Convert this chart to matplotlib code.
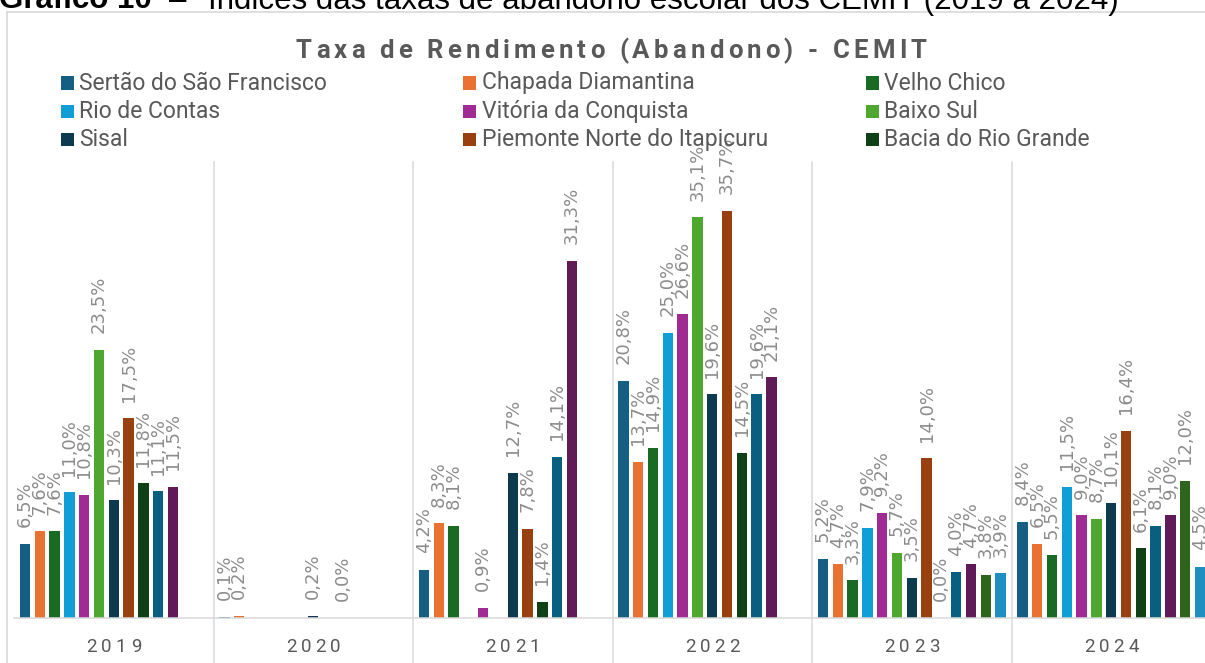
import numpy as np
import matplotlib
matplotlib.use('Agg')
import matplotlib.pyplot as plt
from matplotlib import font_manager
from matplotlib.ft2font import FT2Font
from matplotlib.patches import Rectangle
from matplotlib.lines import Line2D

nan = np.nan

years = ['2019', '2020', '2021', '2022', '2023', '2024']

# taxa de abandono (%) por territorio, 2019..2024 (vazio = sem dado)
sertao_sao_francisco = [6.5, 0.1, 4.2, 20.8, 5.2, 8.4]
chapada_diamantina = [7.6, 0.2, 8.3, 13.7, 4.7, 6.5]
velho_chico = [7.6, nan, 8.1, 14.9, 3.3, 5.5]
rio_de_contas = [11.0, nan, nan, 25.0, 7.9, 11.5]
vitoria_da_conquista = [10.8, nan, 0.9, 26.6, 9.2, 9.0]
baixo_sul = [23.5, nan, nan, 35.1, 5.7, 8.7]
sisal = [10.3, 0.2, 12.7, 19.6, 3.5, 10.1]
piemonte_norte = [17.5, nan, 7.8, 35.7, 14.0, 16.4]
bacia_rio_grande = [11.8, 0.0, 1.4, 14.5, 0.0, 6.1]
serie_10 = [11.1, nan, 14.1, 19.6, 4.0, 8.1]
serie_11 = [11.5, nan, 31.3, 21.1, 4.7, 9.0]
serie_12 = [nan, nan, nan, nan, 3.8, 12.0]
serie_13 = [nan, nan, nan, nan, 3.9, 4.5]

names = ['Sertão do São Francisco', 'Chapada Diamantina', 'Velho Chico',
         'Rio de Contas', 'Vitória da Conquista', 'Baixo Sul',
         'Sisal', 'Piemonte Norte do Itapicuru', 'Bacia do Rio Grande',
         'Série 10', 'Série 11', 'Série 12', 'Série 13']
series = [sertao_sao_francisco, chapada_diamantina, velho_chico,
          rio_de_contas, vitoria_da_conquista, baixo_sul,
          sisal, piemonte_norte, bacia_rio_grande,
          serie_10, serie_11, serie_12, serie_13]
colors = ['#156082', '#E97132', '#196B24', '#0F9ED5', '#A02B93', '#4EA72E',
          '#0D3A4E', '#994011', '#0F4016', '#095F80', '#601A58', '#2F641C',
          '#1F8EC0']
n_legend = 9

W, H, DPI = 1205, 663, 100
FONT = 'Roboto'
GRID = '#D9D9D9'
DARK = '#595959'
LABEL = '#8C8C8C'


def fx(px):
    return px / W


def fy(py):
    # pixels from top -> figure fraction
    return 1 - py / H


def spaced_text(fig, cx, base_y, s, size, gap, weight='normal', color=DARK):
    # letter-spaced text centred on cx (pixels), baseline at base_y
    prop = font_manager.FontProperties(family=FONT, size=size, weight=weight)
    font = FT2Font(font_manager.findfont(prop))
    font.set_size(size, 72)
    adv = [font.load_char(ord(c)).linearHoriAdvance / 65536 * DPI / 72 for c in s]
    total = sum(adv) + gap * (len(s) - 1)
    x = cx - total / 2
    for c, a in zip(s, adv):
        fig.text(fx(x), fy(base_y), c, fontproperties=prop, color=color,
                 ha='left', va='baseline')
        x += a + gap


fig = plt.figure(figsize=(W / DPI, H / DPI), dpi=DPI)

# caption above the chart (cut off at the top)
cap_y = 8.5
fig.text(fx(-1), fy(cap_y), 'Gráfico 10', family='Liberation Sans',
         weight='bold', fontsize=22.5, color='black', va='baseline')
fig.text(fx(178), fy(cap_y), '–', family='Liberation Sans', fontsize=22.5,
         color='black', va='baseline', ha='center')
fig.text(fx(208), fy(cap_y), 'Índices das taxas de abandono escolar dos CEMIT (2019 a 2024)',
         family='Liberation Sans', fontsize=22.5, color='black', va='baseline')

# chart border
fig.add_artist(Line2D([fx(7.5), fx(7.5)], [fy(12), fy(H + 5)], color=GRID, lw=1.2))
fig.add_artist(Line2D([fx(7.5), fx(W + 5)], [fy(12), fy(12)], color=GRID, lw=1.2))

# title
spaced_text(fig, 611, 58, 'Taxa de Rendimento (Abandono) - CEMIT', 18.5, 4.2,
            weight='bold')

# legend (only the first nine series are visible)
col_x = [60.5, 463, 865.5]
row_y = [83, 111.3, 139.3]
for k in range(n_legend):
    r, c = divmod(k, 3)
    sq = 13
    fig.add_artist(Rectangle((fx(col_x[c]), fy(row_y[r] + sq / 2)), sq / W, sq / H,
                             transform=fig.transFigure, color=colors[k], lw=0))
    fig.text(fx(col_x[c] + 18.5), fy(row_y[r]), names[k], family=FONT,
             fontsize=16.5, color=DARK, va='center', ha='left')

# plot area
plot_left, plot_right = 14, 14 + 6 * 199.5
base, top = 618, 161.5
ax = fig.add_axes([fx(plot_left), fy(base), (plot_right - plot_left) / W, (base - top) / H])
ax.set_xlim(-0.5, 5.5)
ax.set_ylim(0, 40)
for sp in ['top', 'right', 'left']:
    ax.spines[sp].set_visible(False)
ax.spines['bottom'].set_color(GRID)
ax.spines['bottom'].set_linewidth(1.1)
ax.set_xticks([])
ax.set_yticks([])
ax.patch.set_alpha(0)

x = np.arange(len(years))
pitch = 14.8 / 199.5
width = 10.4 / 199.5
nser = len(series)
for j, vals in enumerate(series):
    pos = x + (j - (nser - 1) / 2) * pitch
    ax.bar(pos, vals, width, color=colors[j], lw=0)
    for p, v in zip(pos, vals):
        if np.isnan(v):
            continue
        ax.annotate(f'{v:.1f}%'.replace('.', ','), (p, v), xytext=(0, 12),
                    textcoords='offset points', rotation=90, ha='center',
                    va='bottom', family='DejaVu Sans', fontsize=13, color=LABEL,
                    annotation_clip=False)

# category separators, running down through the label area
for b in np.arange(0.5, len(years), 1.0):
    ax.plot([b, b], [1, -0.3], color=GRID, lw=1.1,
            transform=ax.get_xaxis_transform(), clip_on=False)

# year labels, letter-spaced
for i, yr in enumerate(years):
    cx = plot_left + (i + 0.5) * 199.5
    spaced_text(fig, cx, 651.5, yr, 13.5, 4.3)

fig.savefig('out.png', dpi=DPI)
